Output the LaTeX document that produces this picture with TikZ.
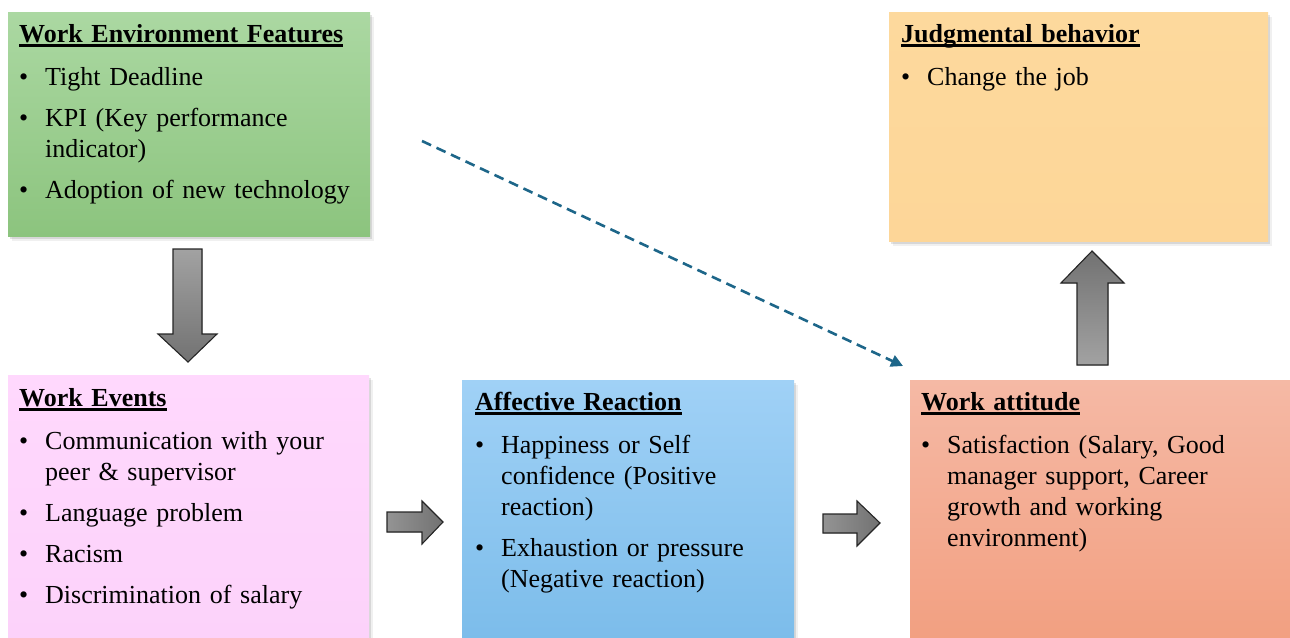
\documentclass[tikz,border=0pt]{standalone}
\usepackage{fontspec}
\setmainfont{Liberation Serif}
\usetikzlibrary{arrows.meta,shadows}

% panel colours (top / bottom of each gradient)
\definecolor{envTop}{HTML}{ABD8A2}
\definecolor{envBot}{HTML}{8CC47E}
\definecolor{judgeTop}{HTML}{FDD99D}
\definecolor{judgeBot}{HTML}{FDD698}
\definecolor{eventTop}{HTML}{FFD8FD}
\definecolor{eventBot}{HTML}{FCD2FA}
\definecolor{affTop}{HTML}{A0D1F6}
\definecolor{affBot}{HTML}{7BBCEA}
\definecolor{attTop}{HTML}{F5B9A5}
\definecolor{attBot}{HTML}{F29F80}
\definecolor{dashblue}{HTML}{1D6689}
\definecolor{arrLight}{HTML}{A2A2A2}
\definecolor{arrDark}{HTML}{727272}

% bold title with a heavy underline
\newcommand\paneltitle[1]{%
  \setbox0\hbox{\bfseries #1}%
  \noindent\rlap{\rule[-4.5pt]{\wd0}{2.6pt}}\box0\par\vspace{12pt}}
% bullet item with hanging indent
\newcommand\bulletitem[1]{%
  \hangindent=26pt\hangafter=1\noindent
  \makebox[26pt][l]{\textbullet}#1\par\vspace{10pt}}

\tikzset{
  panel/.style={rectangle, draw=none, inner sep=0pt, anchor=north west,
    drop shadow={opacity=0.12, shadow xshift=3.5pt, shadow yshift=-4.5pt},
    drop shadow={opacity=0.22, shadow xshift=1.8pt, shadow yshift=-2.5pt}},
  paneltext/.style={anchor=north west, inner sep=0pt, align=left,
    font=\fontsize{26}{31}\selectfont},
  blockarrow/.style={draw=black!85, line width=1.1pt, line join=miter},
  influence/.style={draw=dashblue, line width=2.6pt,
    dash pattern=on 10pt off 6pt,
    -{Triangle[length=12pt,width=12pt]}}
}

\begin{document}
\begin{tikzpicture}[x=1pt, y=-1pt]
\useasboundingbox (0,0) rectangle (1290,637);

% ---- panels ----
\node[panel, top color=envTop, bottom color=envBot,
      minimum width=362pt, minimum height=224pt] (envbox) at (8,12) {};
\node[panel, top color=judgeTop, bottom color=judgeBot,
      minimum width=379pt, minimum height=229pt] (judgebox) at (889,12) {};
\node[panel, top color=eventTop, bottom color=eventBot,
      minimum width=361pt, minimum height=270pt] (eventbox) at (8,375) {};
\node[panel, top color=affTop, bottom color=affBot,
      minimum width=332pt, minimum height=265pt] (affbox) at (462,380) {};
\node[panel, top color=attTop, bottom color=attBot,
      minimum width=390pt, minimum height=265pt] (attbox) at (910,380) {};

% ---- panel texts ----
\node[paneltext, text width=345pt] (envtext) at (19,24) {%
  \paneltitle{Work Environment Features}%
  \bulletitem{Tight Deadline}%
  \bulletitem{KPI (Key performance\newline indicator)}%
  \bulletitem{Adoption of new technology}};

\node[paneltext, text width=360pt] (judgetext) at (901,24) {%
  \paneltitle{Judgmental behavior}%
  \bulletitem{Change the job}};

\node[paneltext, text width=345pt] (eventtext) at (19,388) {%
  \paneltitle{Work Events}%
  \bulletitem{Communication with your\newline peer \& supervisor}%
  \bulletitem{Language problem}%
  \bulletitem{Racism}%
  \bulletitem{Discrimination of salary}};

\node[paneltext, text width=315pt] (afftext) at (475,392) {%
  \paneltitle{Affective Reaction}%
  \bulletitem{Happiness or Self\newline confidence (Positive\newline reaction)}%
  \bulletitem{Exhaustion or pressure\newline (Negative reaction)}};

\node[paneltext, text width=360pt] (atttext) at (921,392) {%
  \paneltitle{Work attitude}%
  \bulletitem{Satisfaction (Salary, Good\newline manager support, Career\newline growth and working\newline environment)}};

% ---- block arrows ----
% environment -> events (down)
\filldraw[blockarrow, top color=arrLight, bottom color=arrDark]
  (173,249) -- (202,249) -- (202,334) -- (217,334) -- (188,362)
  -- (158,334) -- (173,334) -- cycle;
% events -> affective reaction (right)
\filldraw[blockarrow, left color=arrLight!70!arrDark, right color=arrDark]
  (387,512) -- (422,512) -- (422,501) -- (443,522) -- (422,544)
  -- (422,532) -- (387,532) -- cycle;
% affective reaction -> attitude (right)
\filldraw[blockarrow, left color=arrLight!70!arrDark, right color=arrDark]
  (823,514) -- (857,514) -- (857,501) -- (880,523) -- (857,546)
  -- (857,533) -- (823,533) -- cycle;
% attitude -> behaviour (up)
\filldraw[blockarrow, top color=arrDark, bottom color=arrLight]
  (1077,365) -- (1108,365) -- (1108,283) -- (1124,283) -- (1092,251)
  -- (1061,283) -- (1077,283) -- cycle;

% ---- direct influence of the environment on attitude ----
\coordinate (dashstart) at (422,141);
\coordinate (dashend) at (903,366);
\draw[influence] (dashstart) -- (dashend);
\end{tikzpicture}
\end{document}
